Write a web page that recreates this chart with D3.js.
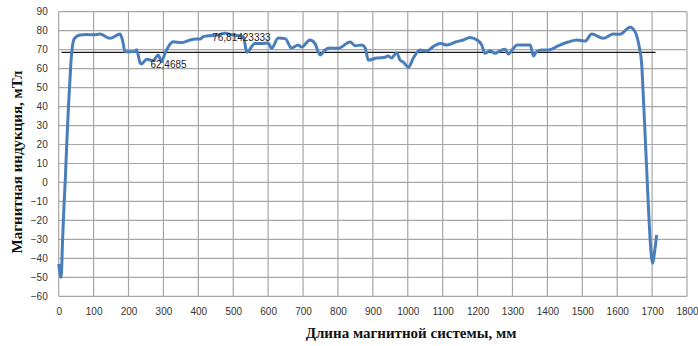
<!DOCTYPE html>
<html>
<head>
<meta charset="utf-8">
<script src="https://cdn.jsdelivr.net/npm/d3@7/dist/d3.min.js"></script>
<style>
  html, body { margin: 0; padding: 0; background: #fff; }
  svg { display: block; }
</style>
</head>
<body>
<svg id="chart" width="698" height="346"></svg>
<script>
// Measurement points along the magnetic system, mm
const positions = [0, 7, 11, 15, 19, 23, 28, 34, 37, 45, 61, 80, 100, 118, 147, 176, 184, 190,
  219, 223, 233, 237, 252, 271, 285, 295, 298, 309, 328, 352, 386, 405, 414, 424, 456, 477, 491,
  529, 539, 562, 581, 600, 610, 629, 649, 667, 686, 696, 720, 734, 749, 763, 777, 801, 835,
  849, 868, 878, 887, 911, 935, 944, 954, 968, 978, 987, 1002, 1016, 1035, 1054, 1073, 1093,
  1112, 1140, 1159, 1178, 1202, 1212, 1221, 1236, 1250, 1264, 1279, 1288, 1303, 1312, 1351,
  1360, 1369, 1384, 1403, 1432, 1460, 1484, 1508, 1527, 1560, 1589, 1608, 1637, 1651, 1663,
  1670, 1675, 1680, 1685, 1690, 1695, 1702, 1706, 1713];

// Magnetic induction, mT
const induction = [-43, -50, -31, -13, 2, 20, 40, 60, 68, 75.9, 77.7, 78, 77.8, 78.2, 76, 78.2, 74, 68.9,
  69, 70, 63.1, 62.4685, 64.9, 64.2, 67.2, 63.6, 64.9, 69.8, 74.2, 73.7, 75.5, 75.6, 76.81423333, 77.2, 77.7, 78.6, 78,
  76.8, 68.6, 73.3, 73.3, 73.5, 70.7, 76.1, 75.8, 70.9, 72.4, 71.4, 75.1, 73.3, 67.2, 69.8, 70.9, 70.7, 74,
  72.1, 72.4, 70.9, 64.5, 65.6, 66, 66.6, 65.6, 68.4, 64.5, 63.5, 60.7, 65.6, 69.8, 69.3, 71.6, 73.3,
  72.4, 74.2, 75.1, 76.4, 74.7, 72.4, 68.1, 69.4, 68.1, 69.4, 70.2, 67.7, 70.7, 72.4, 72.4,
  66.6, 68.9, 69.8, 69.8, 72.1, 74, 75.1, 74.5, 78.2, 76, 78.2, 78.1, 81.8, 79.5, 71.6,
  62.8, 45, 25, 5, -15, -32, -42.6, -38, -27.7];

// Reference level line
const levelX = [8, 1710];
const levelY = [68.6, 68.6];

// Annotated points: position, value, label
const notePos = [414, 237];
const noteVal = [76.81423333, 62.4685];
const noteText = ["76,81423333", "62,4685"];

const xTicks = d3.range(0, 1801, 100);
const yTicks = d3.range(-60, 91, 10);

const svg = d3.select("#chart");
const m = { left: 58.7, right: 687, top: 11.7, bottom: 296.3 };

const x = d3.scaleLinear().domain([0, 1800]).range([m.left, m.right]);
const y = d3.scaleLinear().domain([-60, 90]).range([m.bottom, m.top]);

// Grid
const grid = svg.append("g").attr("stroke", "#a6a6a6").attr("stroke-width", 1.2);
grid.selectAll("line.v").data(xTicks).join("line").attr("class", "v")
  .attr("x1", d => x(d)).attr("x2", d => x(d))
  .attr("y1", m.top).attr("y2", m.bottom);
grid.selectAll("line.h").data(yTicks).join("line").attr("class", "h")
  .attr("x1", m.left).attr("x2", m.right)
  .attr("y1", d => y(d)).attr("y2", d => y(d));

// Axes (labels only)
const xAxis = svg.append("g").attr("transform", `translate(0,${m.bottom})`)
  .call(d3.axisBottom(x).tickValues(xTicks).tickFormat(d3.format("d")).tickSize(0).tickPadding(12));
const yAxis = svg.append("g").attr("transform", `translate(${m.left},0)`)
  .call(d3.axisLeft(y).tickValues(yTicks).tickFormat(d3.format("d")).tickSize(0).tickPadding(11));
[xAxis, yAxis].forEach(a => {
  a.select(".domain").remove();
  a.selectAll("text").attr("font-family", "'Liberation Sans', Arial, sans-serif")
    .attr("font-size", 10).attr("fill", "#333");
});

// Level line
svg.append("line")
  .attr("x1", x(levelX[0])).attr("x2", x(levelX[1]))
  .attr("y1", y(levelY[0])).attr("y2", y(levelY[1]))
  .attr("stroke", "#1a1a1a").attr("stroke-width", 1.2);

// Induction curve
const line = d3.line()
  .x((d, i) => x(positions[i]))
  .y(d => y(d))
  .curve(d3.curveMonotoneX);
svg.append("path")
  .datum(induction)
  .attr("d", line)
  .attr("fill", "none")
  .attr("stroke", "#4a7ebb")
  .attr("stroke-width", 3)
  .attr("stroke-linejoin", "round");

// Point annotations
svg.selectAll("text.note").data(noteText).join("text")
  .attr("class", "note")
  .attr("x", (d, i) => x(notePos[i]) + 9)
  .attr("y", (d, i) => y(noteVal[i]) + 1)
  .attr("dy", "0.35em")
  .attr("font-family", "'Liberation Sans', Arial, sans-serif")
  .attr("font-size", 10)
  .attr("fill", "#222")
  .text(d => d);

// Axis titles
svg.append("text")
  .attr("x", 411).attr("y", 338)
  .attr("text-anchor", "middle")
  .attr("font-family", "'Liberation Serif', 'Times New Roman', serif")
  .attr("font-weight", "bold").attr("font-size", 15).attr("fill", "#111")
  .text("Длина магнитной системы, мм");
svg.append("text")
  .attr("transform", "translate(22,162) rotate(-90)")
  .attr("text-anchor", "middle")
  .attr("font-family", "'Liberation Serif', 'Times New Roman', serif")
  .attr("font-weight", "bold").attr("font-size", 15).attr("fill", "#111")
  .text("Магнитная индукция, мТл");
</script>
</body>
</html>
